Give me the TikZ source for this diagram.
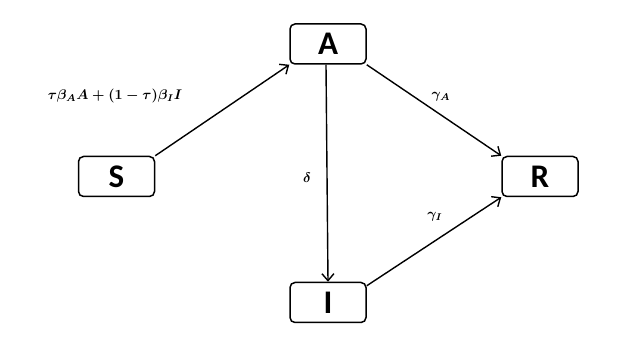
\documentclass[tikz,border=0pt]{standalone}
\usepackage{graphicx}
\usepackage{fontspec}
\newfontfamily\boxfont{Carlito}
\usetikzlibrary{arrows.meta}
\newcommand{\labtext}[1]{\scalebox{1.4}{\fontsize{10}{10}\selectfont\boldmath$#1$}}
\begin{document}
\begin{tikzpicture}[x=1pt,y=-1pt,
  comp/.style={draw,line width=1.5pt,rounded corners=5pt,minimum width=76pt,minimum height=40pt,inner sep=0pt,font=\boxfont\bfseries\fontsize{33}{33}\selectfont},
  flow/.style={line width=1.4pt,-{Straight Barb[length=7pt,width=12pt,line width=1.4pt]}},
  lab/.style={inner sep=1pt}]
\useasboundingbox (0,0) rectangle (640,347);
\node[comp] (S) at (116.5,176.5) {S};
\node[comp] (A) at (328,44) {A};
\node[comp] (R) at (540,176.5) {R};
\node[comp] (I) at (328,302.5) {I};
\draw[flow] (S.north east) -- (A.south west);
\draw[flow] (A.south east) -- (R.north west);
\draw[flow] ([xshift=-2pt]A.south) -- (I.north);
\draw[flow] ([yshift=-4pt]I.north east) -- (R.south west);
\node[lab] (l1) at (115,96) {\labtext{\tau\beta_A A+(1-\tau)\beta_I I}};
\node[lab] (l2) at (441,97) {\labtext{\gamma_A}};
\node[lab] (l3) at (307,178) {\labtext{\delta}};
\node[lab] (l4) at (435,217) {\labtext{\gamma_I}};
\end{tikzpicture}
\end{document}
